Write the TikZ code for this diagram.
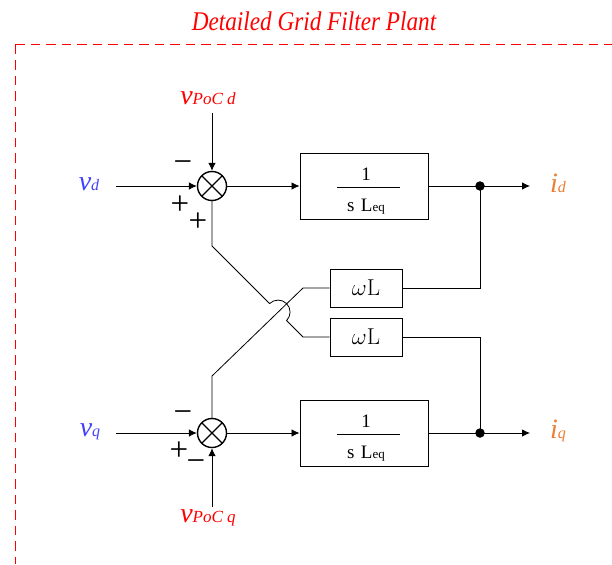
\RequirePackage{fix-cm}
\documentclass[tikz,border=0pt]{standalone}
\usepackage[no-math]{fontspec}
\setmainfont{Liberation Serif}
\newfontfamily\titlefont{Liberation Serif}[FakeStretch=0.86]
\usetikzlibrary{arrows.meta,calc}
\definecolor{vblue}{RGB}{64,64,255}
\definecolor{iorange}{RGB}{237,125,49}
\definecolor{tred}{RGB}{255,0,0}
\newcommand{\fsz}[1]{\fontsize{#1}{#1}\selectfont}
\begin{document}
\begin{tikzpicture}[x=1pt,y=-1pt,
  line/.style={line width=0.8pt},
  arr/.style={line, -{Latex[length=8pt,width=7.5pt]}},
  sumnode/.style={circle, draw, line width=1.4pt, minimum size=29pt, inner sep=0pt,
    path picture={\draw[line width=1.4pt] (path picture bounding box.north west) -- (path picture bounding box.south east) (path picture bounding box.north east) -- (path picture bounding box.south west);}},
  tfbox/.style={draw, line width=0.9pt, minimum width=128pt, minimum height=66pt, inner sep=0pt},
  wlbox/.style={draw, line width=0.9pt, minimum width=72pt, minimum height=38pt, inner sep=0pt, font=\fsz{23}},
  lbl/.style={anchor=base, inner sep=0pt, font=\itshape},
  sign/.style={inner sep=0pt, font=\fsz{33}},
  dot/.style={circle, fill, inner sep=0pt, minimum size=9.5pt},
  tftext/.style={anchor=base, inner sep=0pt, font=\fsz{19}}
]
\useasboundingbox (0,0) rectangle (612,564);

% title and frame
\node[anchor=base, text=tred, font=\titlefont\itshape\fsz{27}, inner sep=0pt] (title) at (314,31) {Detailed Grid Filter Plant};
\coordinate (fc) at (15,45);
\coordinate (fr) at (612,45);
\coordinate (fb) at (15,564);
\draw[tred, line width=1pt, dash pattern=on 9.5pt off 6pt] (fc) -- (fr);
\draw[tred, line width=1pt, dash pattern=on 9.5pt off 6pt] (fc) -- (fb);

% summing junctions
\node[sumnode] (s1) at (212,186) {};
\node[sumnode] (s2) at (212,433) {};

% transfer function boxes
\node[tfbox] (g1) at (364,186) {};
\node[tfbox] (g2) at (364,433) {};
\node[tftext] (g1n) at (366,180) {1};
\node[tftext] (g1d) at (366,211) {s\,\,L{\fsz{13}eq}};
\coordinate (g1bl) at (337,187);
\coordinate (g1br) at (400,187);
\draw[line width=0.9pt] (g1bl) -- (g1br);
\node[tftext] (g2n) at (366,427) {1};
\node[tftext] (g2d) at (366,458) {s\,\,L{\fsz{13}eq}};
\coordinate (g2bl) at (337,434);
\coordinate (g2br) at (400,434);
\draw[line width=0.9pt] (g2bl) -- (g2br);

% omega L boxes
\node[wlbox] (w1) at (366,288) {$\omega\mathrm{L}$};
\node[wlbox] (w2) at (366,337) {$\omega\mathrm{L}$};

% labels
\node[lbl, text=vblue] (vd) at (89,190) {\fsz{28}v\fsz{16}d};
\node[lbl, text=tred] (vpd) at (208,105) {\fsz{28}v\fsz{17}PoC d};
\node[lbl, text=vblue] (vq) at (90,436) {\fsz{28}v\fsz{16}q};
\node[lbl, text=tred] (vpq) at (208,522) {\fsz{28}v\fsz{17}PoC q};
\node[lbl, text=iorange] (id) at (558,192) {\fsz{28}i\fsz{16}d};
\node[lbl, text=iorange] (iq) at (558,438) {\fsz{28}i\fsz{16}q};

% signs
\node[sign] (m1) at (183,167) {−};
\node[sign] (p1) at (180,205) {+};
\node[sign] (p2) at (198,222) {+};
\node[sign] (m2) at (183,417) {−};
\node[sign] (p3) at (179,451) {+};
\node[sign] (m3) at (196,466) {−};

% input arrows
\coordinate (vdin) at (116,186);
\coordinate (vpdin) at (212,113);
\coordinate (vqin) at (116,433);
\coordinate (vpqin) at (212,507);
\draw[arr] (vdin) -- (s1.west);
\draw[arr] (vpdin) -- (s1.north);
\draw[arr] (vqin) -- (s2.west);
\draw[arr] (vpqin) -- (s2.south);

% forward path
\draw[arr] (s1.east) -- (g1.west);
\draw[arr] (s2.east) -- (g2.west);
\coordinate (d1) at (480,186);
\coordinate (d2) at (480,433);
\coordinate (idend) at (530,186);
\coordinate (iqend) at (530,433);
\draw[arr] (g1.east) -- (idend);
\draw[arr] (g2.east) -- (iqend);

% cross coupling
\coordinate (a1) at (212,246);
\coordinate (a2) at (303,337);
\coordinate (b1) at (212,376);
\coordinate (b2) at (303,288);
\coordinate (X) at (intersection of a1--a2 and b1--b2);
\draw[line] (s1.south) -- (a1) -- ($(X)+(-8.485,-8.485)$)
  .. controls ($(X)+(-3.795,-13.175)$) and ($(X)+(3.795,-13.175)$) .. ($(X)+(8.485,-8.485)$)
  .. controls ($(X)+(13.175,-3.795)$) and ($(X)+(13.175,3.795)$) .. ($(X)+(8.485,8.485)$)
  -- (a2) -- (w2.west);
\draw[line] (s2.north) -- (b1) -- (b2) -- (w1.west);
\draw[line] (w1.east) -| (d1);
\draw[line] (w2.east) -| (d2);

\node[dot] (dot1) at (d1) {};
\node[dot] (dot2) at (d2) {};
\end{tikzpicture}
\end{document}
